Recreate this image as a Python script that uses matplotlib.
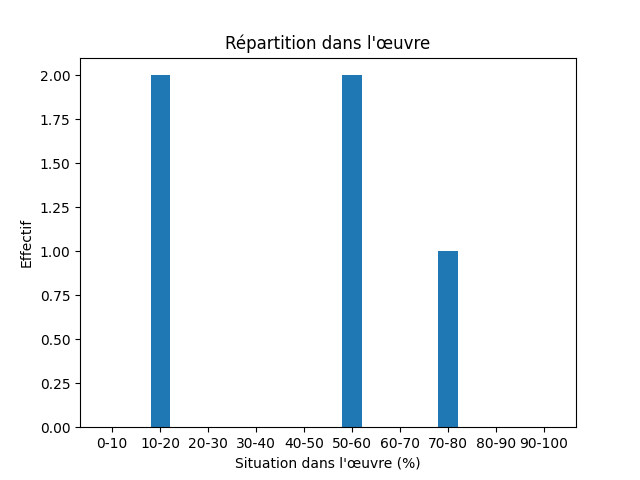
import matplotlib
matplotlib.use("Agg")
import matplotlib.pyplot as plt

categories = ["0-10", "10-20", "20-30", "30-40", "40-50", "50-60", "60-70", "70-80", "80-90", "90-100"]
values = [0, 2, 0, 0, 0, 2, 0, 1, 0, 0]

fig, ax = plt.subplots(figsize=(6.4, 4.8), dpi=100)
ax.bar(categories, values, width=0.4)
ax.set_title("Répartition dans l'œuvre")
ax.set_xlabel("Situation dans l'œuvre (%)")
ax.set_ylabel("Effectif")
fig.savefig("out.png")
